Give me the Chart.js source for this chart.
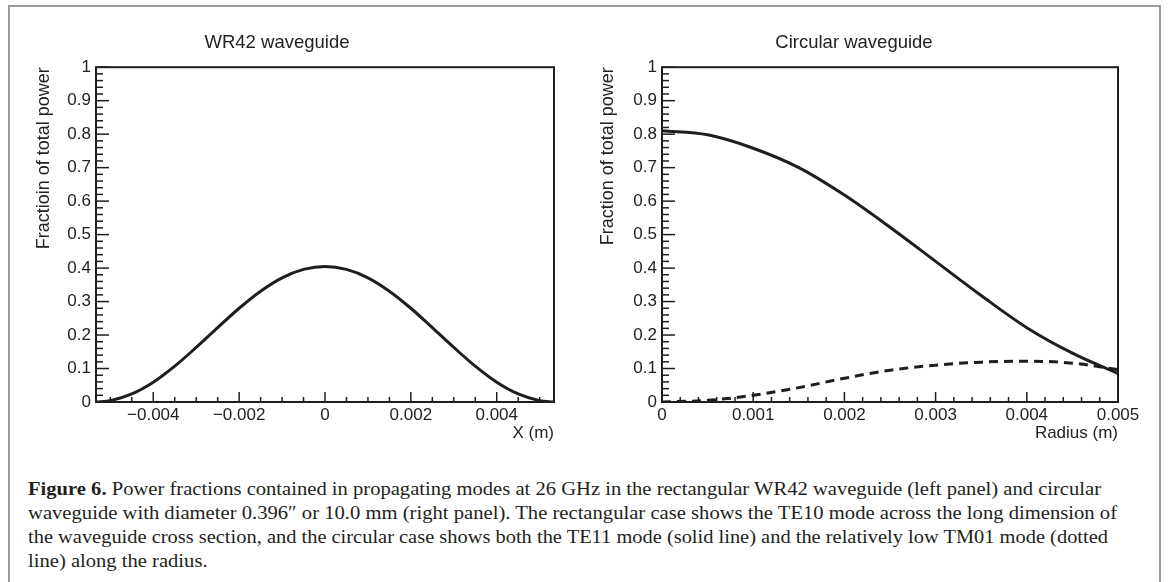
<!DOCTYPE html>
<html>
<head>
<meta charset="utf-8">
<script src="https://cdn.jsdelivr.net/npm/chart.js@4.4.0/dist/chart.umd.min.js"></script>
<style>
  body { margin: 0; width: 1168px; height: 582px; position: relative; overflow: hidden; background: #fff; }
  #frame { position: absolute; left: 8px; top: 5px; width: 1153px; height: 640px; border: 2px solid #9b9b9b; box-sizing: border-box; }
  canvas { position: absolute; top: 0; }
  #cap { position: absolute; left: 28px; top: 477px; font-family: "Liberation Serif", serif; font-size: 19px; line-height: 24px; color: #231f20; }
  #cap div { white-space: nowrap; }
  #cap span { display: inline-block; transform-origin: 0 50%; }
</style>
</head>
<body>
<div id="frame"></div>
<canvas id="left" width="614" height="460" style="left:0"></canvas>
<canvas id="right" width="578" height="460" style="left:590px"></canvas>
<div id="cap">
  <div><span><b>Figure 6.</b> Power fractions contained in propagating modes at 26 GHz in the rectangular WR42 waveguide (left panel) and circular</span></div>
  <div><span>waveguide with diameter 0.396″ or 10.0 mm (right panel). The rectangular case shows the TE10 mode across the long dimension of</span></div>
  <div><span>the waveguide cross section, and the circular case shows both the TE11 mode (solid line) and the relatively low TM01 mode (dotted</span></div>
  <div><span>line) along the radius.</span></div>
</div>
<script>
// left panel: TE10 across the long side of WR42
const wr42X = [-0.005334, -0.005, -0.0045, -0.004, -0.0035, -0.003, -0.0025, -0.002, -0.0015, -0.001, -0.0005, 0,
  0.0005, 0.001, 0.0015, 0.002, 0.0025, 0.003, 0.0035, 0.004, 0.0045, 0.005, 0.005334];
const wr42Te10 = [0, 0.004, 0.024, 0.059, 0.107, 0.163, 0.222, 0.280, 0.331, 0.371, 0.396, 0.405,
  0.396, 0.371, 0.331, 0.280, 0.222, 0.163, 0.107, 0.059, 0.024, 0.004, 0];

// right panel: circular guide, along the radius
const circR = [0, 0.0005, 0.001, 0.0015, 0.002, 0.0025, 0.003, 0.0035, 0.004, 0.0045, 0.005];
const circTe11 = [0.810, 0.798, 0.758, 0.700, 0.618, 0.522, 0.420, 0.318, 0.222, 0.146, 0.085];
const circTm01 = [0, 0.005, 0.020, 0.043, 0.071, 0.095, 0.110, 0.119, 0.122, 0.116, 0.097];

const yTicks = [0, 0.1, 0.2, 0.3, 0.4, 0.5, 0.6, 0.7, 0.8, 0.9, 1];
const wr42Ticks = [-0.004, -0.002, 0, 0.002, 0.004];
const circTicks = [0, 0.001, 0.002, 0.003, 0.004, 0.005];

const ink = "#1e1e1e";
Chart.defaults.font.family = "'Liberation Sans', Arial, sans-serif";
Chart.defaults.color = "#222";

const fmt = v => (v < 0 ? "\u2212" + String(-v) : String(v));

// ROOT style box with inward ticks on bottom and left
const rootFrame = {
  id: "rootFrame",
  afterDatasetsDraw(chart, args, opts) {
    const { ctx, chartArea: a, scales } = chart;
    ctx.save();
    ctx.strokeStyle = ink;
    ctx.lineWidth = 1.5;
    const marks = (scale, step, major, horiz, bigLen, smallLen) => {
      const i0 = Math.ceil(scale.min / step - 1e-6), i1 = Math.floor(scale.max / step + 1e-6);
      for (let i = i0; i <= i1; i++) {
        const v = i * step;
        const r = v / major;
        const len = Math.abs(r - Math.round(r)) < 1e-6 ? bigLen : smallLen;
        const p = scale.getPixelForValue(v);
        ctx.beginPath();
        if (horiz) { ctx.moveTo(p, a.bottom); ctx.lineTo(p, a.bottom - len); }
        else { ctx.moveTo(a.left, p); ctx.lineTo(a.left + len, p); }
        ctx.stroke();
      }
    };
    marks(scales.x, opts.xMinor, opts.xMajor, true, 10, 5);
    marks(scales.y, 0.02, 0.1, false, 13, 7);
    ctx.lineWidth = 2;
    ctx.strokeRect(a.left, a.top, a.right - a.left, a.bottom - a.top);
    ctx.restore();
  }
};

const line = (xs, ys, dash) => ({
  data: xs.map((x, i) => ({ x: x, y: ys[i] })),
  borderColor: ink,
  borderWidth: 3,
  borderDash: dash || [],
  pointRadius: 0,
  fill: false,
  cubicInterpolationMode: "monotone"
});

function panel(id, o) {
  return new Chart(document.getElementById(id), {
    type: "line",
    data: { datasets: o.datasets },
    options: {
      responsive: false,
      animation: false,
      events: [],
      layout: { padding: { left: 0, right: o.padRight, top: 0, bottom: 0 } },
      plugins: {
        legend: { display: false },
        tooltip: { enabled: false },
        title: {
          display: true, text: o.title, color: "#222",
          font: { size: 18.5, weight: "normal" },
          padding: { top: 32, bottom: 13 }
        },
        rootFrame: { xMinor: o.xMinor, xMajor: o.xMajor }
      },
      scales: {
        x: {
          type: "linear", min: o.xMin, max: o.xMax,
          grid: { display: false, drawTicks: false },
          border: { display: false },
          afterBuildTicks: s => { s.ticks = o.xTicks.map(v => ({ value: v })); },
          afterFit: s => { s.height = 58; },
          ticks: { autoSkip: false, maxRotation: 0, padding: 3, font: { size: 17 }, callback: fmt },
          title: { display: true, text: o.xTitle, align: "end", font: { size: 17 }, padding: { top: 0, bottom: 16 } }
        },
        y: {
          type: "linear", min: 0, max: 1,
          grid: { display: false, drawTicks: false },
          border: { display: false },
          afterBuildTicks: s => { s.ticks = yTicks.map(v => ({ value: v })); },
          afterFit: s => { s.width = o.yWidth; },
          ticks: { autoSkip: false, padding: 5, font: { size: 17 }, callback: fmt },
          title: { display: true, text: o.yTitle, align: "end", font: { size: 18 }, padding: { top: o.yTitlePad, bottom: 0 } }
        }
      }
    },
    plugins: [rootFrame]
  });
}

panel("left", {
  title: "WR42 waveguide",
  datasets: [line(wr42X, wr42Te10)],
  xMin: -0.005334, xMax: 0.005334, xTicks: wr42Ticks, xMinor: 0.0005, xMajor: 0.002,
  xTitle: "X (m)", yTitle: "Fractioin of total power",
  yWidth: 96, yTitlePad: 33, padRight: 60
});

panel("right", {
  title: "Circular waveguide",
  datasets: [line(circR, circTe11), line(circR, circTm01, [9, 6])],
  xMin: 0, xMax: 0.005, xTicks: circTicks, xMinor: 0.0002, xMajor: 0.001,
  xTitle: "Radius (m)", yTitle: "Fraction of total power",
  yWidth: 72, yTitlePad: 7, padRight: 50
});

// squeeze caption lines to the widths of the printed ones
const capEnds = [1101, 1117, 1108];
const spans = document.querySelectorAll("#cap span");
let k0 = 1;
spans.forEach((s, i) => {
  const w = s.getBoundingClientRect().width;
  const k = i < capEnds.length ? (capEnds[i] - 28) / w : k0;
  if (i === 0) k0 = k;
  s.style.transform = "scaleX(" + k.toFixed(4) + ")";
});
</script>
</body>
</html>
